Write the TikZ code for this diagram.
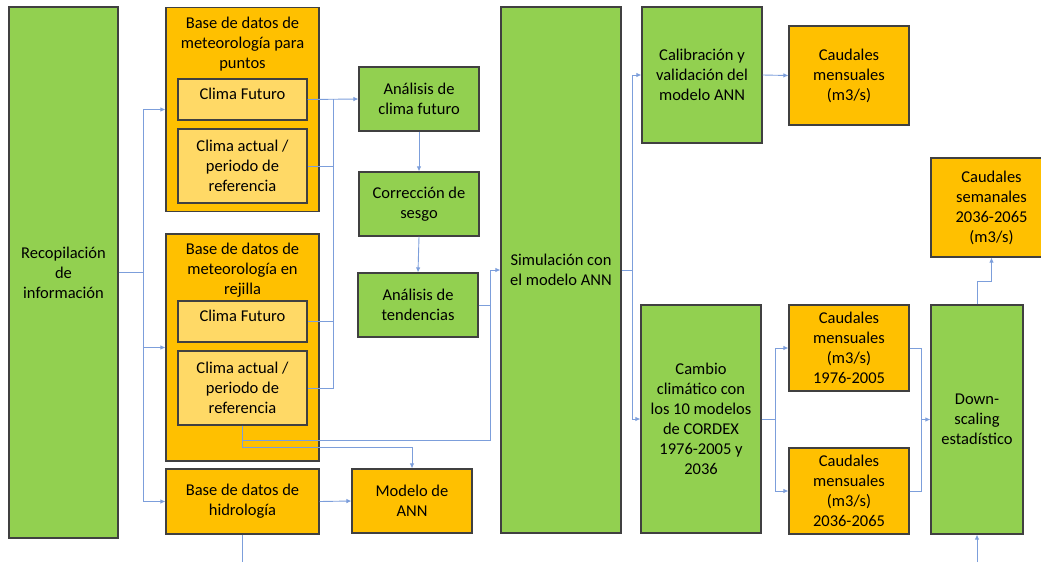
\documentclass[tikz,border=0pt]{standalone}
\usepackage{fontspec}
\setmainfont{Carlito}
\usetikzlibrary{positioning,arrows.meta,calc}
\definecolor{FlGreen}{HTML}{92D050}
\definecolor{FlOrange}{HTML}{FFC000}
\definecolor{FlPale}{HTML}{FFD966}
\definecolor{FlEdge}{HTML}{404040}
\definecolor{FlLine}{HTML}{7C9EDB}

\begin{document}
\begin{tikzpicture}[
  x=1pt, y=-1pt,
  fbox/.style={draw=FlEdge, line width=1.1pt, align=center, inner sep=2pt, font=\fontsize{16.5}{20}\selectfont, text=black},
  grbox/.style={fbox, fill=FlGreen, minimum width=120pt, minimum height=64pt},
  orbox/.style={fbox, fill=FlOrange, minimum width=120pt, minimum height=64pt},
  palebox/.style={fbox, fill=FlPale, minimum width=129pt},
  toptext/.style={label={[anchor=north, yshift=-7.5pt, align=center, inner sep=2pt, font=\fontsize{16.5}{20}\selectfont, text=black]north:#1}},
  flow/.style={-{Latex[length=5pt,width=4.5pt]}, FlLine, line width=0.9pt},
  link/.style={FlLine, line width=0.9pt}
]
\useasboundingbox (0,0) rectangle (1041,562);
% inputs
\node[grbox, minimum width=109pt, minimum height=531pt] (recop) at (63.5,272.5) {Recopilación\\de\\información};
\node[orbox, minimum width=153pt, minimum height=204pt, toptext={Base de datos de\\meteorología para\\puntos}] (puntos) at (242.5,109.5) {};
\node[palebox, minimum height=41pt, toptext={Clima Futuro}] (fut1) at (242.5,99.5) {};
\node[palebox, minimum height=74pt] (act1) at (242.5,166) {Clima actual /\\periodo de\\referencia};
\node[orbox, minimum width=153pt, minimum height=227pt, toptext={Base de datos de\\meteorología en\\rejilla}] (rejilla) at (242.5,347.5) {};
\node[palebox, minimum height=41pt, toptext={Clima Futuro}] (fut2) at (242.5,321.5) {};
\node[palebox, minimum height=74pt] (act2) at (242.5,388) {Clima actual /\\periodo de\\referencia};
\node[orbox, minimum width=153pt, minimum height=65pt] (hidro) at (242.5,501.5) {Base de datos de\\hidrología};
% analysis
\node[grbox] (anfut) at (419,99) {Análisis de\\clima futuro};
\node[grbox] (sesgo) at (419,204) {Corrección de\\sesgo};
\node[grbox] (tend) at (418,305) {Análisis de\\tendencias};
\node[orbox] (ann) at (412,501) {Modelo de\\ANN};
\node[grbox, minimum height=526pt] (sim) at (561,270) {Simulación con\\el modelo ANN};
% results
\node[grbox, minimum height=136pt] (calib) at (702,75) {Calibración y\\validación del\\modelo ANN};
\node[orbox, minimum height=99pt] (caud1) at (849,75.5) {Caudales\\mensuales\\(m3/s)};
\node[orbox, minimum width=121pt, minimum height=99pt] (sem) at (991.5,207.5) {Caudales\\semanales\\2036-2065\\(m3/s)};
\node[grbox, minimum height=228pt] (cambio) at (701,419) {Cambio\\climático con\\los 10 modelos\\de CORDEX\\1976-2005 y\\2036};
\node[orbox, minimum height=86pt] (cq76) at (849,348) {Caudales\\mensuales\\(m3/s)\\1976-2005};
\node[orbox, minimum height=86pt] (cq36) at (849,491) {Caudales\\mensuales\\(m3/s)\\2036-2065};
\node[grbox, minimum width=92pt, minimum height=229pt] (down) at (977,419.5) {Down-\\scaling\\estadístico};
% junctions
\coordinate (split) at (143,272.5);
\coordinate (busa) at (333,99);
\coordinate (busb) at (490,270);
\coordinate (tendjoin) at (490,440);
\coordinate (annturn) at (242.5,447);
\coordinate (hidroend) at (242.5,562);
\coordinate (busc) at (632,270);
\coordinate (busd) at (775,419);
\coordinate (buse) at (921,419.5);
\coordinate (semturn) at (991.5,281);
\coordinate (downin) at (977,562);
% connectors
\draw[flow] (recop.east) -- (split) |- (puntos.west);
\draw[flow] (split) |- (rejilla.west);
\draw[flow] (split) |- (hidro.west);
\draw[flow] (fut1.east) -- (anfut.west);
\draw[link] (act1.east) -| (busa);
\draw[link] (fut2.east) -| (busa);
\draw[link] (act2.east) -| (busa);
\draw[flow] (anfut.south) -- (sesgo.north);
\draw[flow] (sesgo.south) -- (tend.north);
\draw[flow] (tend.east) -| (busb) -- (sim.west);
\draw[link] (act2.south) |- (tendjoin) -- (busb);
\draw[flow] (act2.south) -- (annturn) -| (ann.north);
\draw[flow] (hidro.east) -- (ann.west);
\draw[link] (hidro.south) -- (hidroend);
\draw[flow] (sim.east) -- (busc) |- (calib.west);
\draw[flow] (busc) |- (cambio.west);
\draw[flow] (calib.east) -- (caud1.west);
\draw[flow] (cambio.east) -- (busd) |- (cq76.west);
\draw[flow] (busd) |- (cq36.west);
\draw[link] (cq76.east) -| (buse);
\draw[link] (cq36.east) -| (buse);
\draw[flow] (buse) -- (down.west);
\draw[flow] (down.north) |- (semturn) -- (sem.south);
\draw[flow] (downin) -- (down.south);
\end{tikzpicture}
\end{document}
